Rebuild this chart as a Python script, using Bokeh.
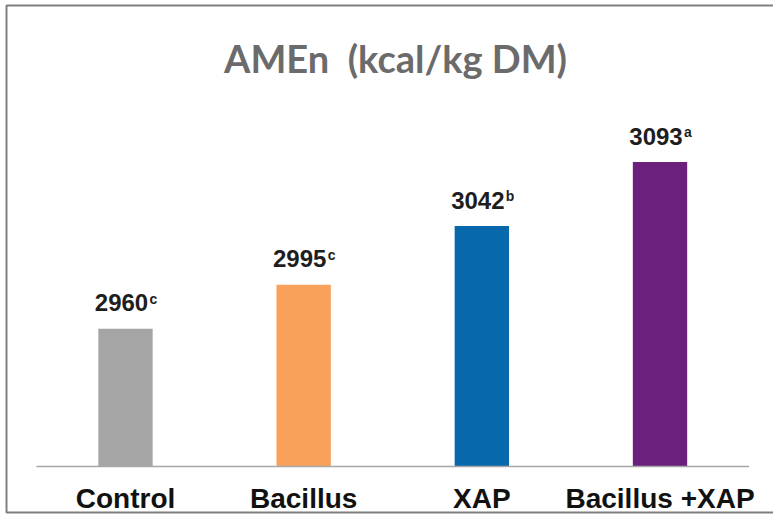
from bokeh.plotting import figure
from bokeh.models import Range1d, ColumnDataSource, Label
from bokeh.core.properties import value
from bokeh.embed import file_html
from bokeh.resources import INLINE

# Data
categories = ["Control", "Bacillus", "XAP", "Bacillus +XAP"]
amen = [2960, 2995, 3042, 3093]
letters = ["c", "c", "b", "a"]
colors = ["#A5A5A5", "#F9A15A", "#0868AC", "#6A207C"]
title_text = "AMEn\u00a0 (kcal/kg DM)"

# Scale set-up: value axis starts at 2850, categories at 0..3
BASE = 2850
W, H = 773, 514
X0_PX, STEP_PX = 125.0, 178.17      # pixel centre of first bar, bar spacing
BASE_PX, PX_PER_UNIT = 466.0, 1.2526  # pixel row of the baseline, px per kcal


def px_x(px):
    return (px - X0_PX) / STEP_PX


def px_y(py):
    return BASE + (BASE_PX - py) / PX_PER_UNIT


p = figure(width=W, height=H, output_backend="svg", toolbar_location=None,
           x_range=Range1d(px_x(0), px_x(W)), y_range=Range1d(px_y(H), px_y(0)),
           x_axis_location=None, y_axis_location=None, min_border=0)
p.grid.visible = False
p.outline_line_color = None
p.background_fill_color = "white"
p.border_fill_color = "white"

idx = list(range(len(categories)))
src = ColumnDataSource(dict(x=idx, top=amen, color=colors,
                            num=[str(v) for v in amen], sup=letters,
                            cat=categories, base=[BASE] * len(idx)))

# outer frame line (left, top, bottom)
p.line(x=[px_x(W + 10), px_x(6), px_x(6), px_x(W + 10)],
       y=[px_y(5), px_y(5), px_y(512), px_y(512)],
       line_color="#7F7F7F", line_width=2)

# bars
p.vbar(x="x", top="top", bottom=BASE, width=0.305, fill_color="color",
       line_color=None, source=src)

# category baseline
p.segment(x0=-0.5, x1=3.5, y0=BASE, y1=BASE, line_color="#A6A6A6", line_width=1.5)

# value labels with significance letters
p.text(x="x", y="top", text="num", source=src, text_align="center",
       text_baseline="middle", x_offset=-4, y_offset=-26,
       text_font=value("Liberation Sans"), text_font_style="bold",
       text_font_size="24px", text_color="#1E1E1E")
p.text(x="x", y="top", text="sup", source=src, text_align="left",
       text_baseline="middle", x_offset=24, y_offset=-30,
       text_font=value("Liberation Sans"), text_font_style="bold",
       text_font_size="14px", text_color="#1E1E1E")

# category labels
p.text(x="x", y="base", text="cat", source=src, text_align="center",
       text_baseline="middle", y_offset=32,
       text_font=value("Liberation Sans"), text_font_style="bold",
       text_font_size="28px", text_color="#111111")

# chart title
p.add_layout(Label(x=px_x(395), y=px_y(57), text=title_text,
                   text_align="center", text_baseline="middle",
                   text_font="Lato", text_font_style="bold",
                   text_font_size="38px", text_color="#6B6B6B"))

open("out.html", "w").write(file_html(p, INLINE))
